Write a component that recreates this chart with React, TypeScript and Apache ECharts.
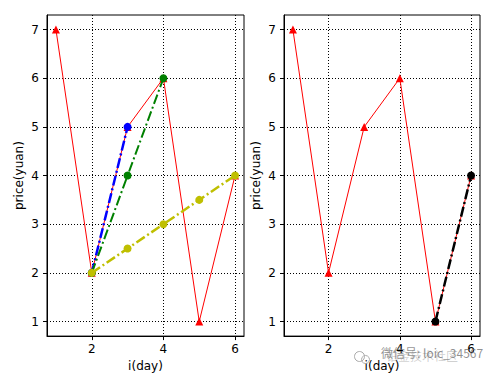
import React, { useEffect, useRef } from "react";
import * as echarts from "echarts";

const days = [1, 2, 3, 4, 5, 6];
const price = [7, 2, 5, 6, 1, 4];
const blueX = [2, 3];
const blueY = [2, 5];
const greenX = [2, 3, 4];
const greenY = [2, 4, 6];
const yellowX = [2, 3, 4, 5, 6];
const yellowY = [2, 2.5, 3, 3.5, 4];
const blackX = [5, 6];
const blackY = [1, 4];
const xTicks = [2, 4, 6];
const yTicks = [1, 2, 3, 4, 5, 6, 7];

const zip = (xs: number[], ys: number[]) => xs.map((x, i) => [x, ys[i]]);

const FONT = "DejaVu Sans";
const DASHDOT = [10, 3, 2, 3];

function xAxisOpt(gridIndex: number) {
  return {
    type: "value",
    gridIndex,
    min: 0.75,
    max: 6.25,
    name: "i(day)",
    nameLocation: "middle",
    nameGap: 23,
    nameTextStyle: { color: "#000", fontSize: 12, fontFamily: FONT },
    axisLine: { show: true, lineStyle: { color: "#000", width: 1 } },
    axisTick: { show: true, inside: false, length: 4, customValues: xTicks, lineStyle: { color: "#000" } },
    axisLabel: { show: true, customValues: xTicks, margin: 7, color: "#000", fontSize: 12, fontFamily: FONT },
    splitLine: { show: true, lineStyle: { color: "#000", width: 1, type: [1, 2] } },
  };
}

function yAxisOpt(gridIndex: number) {
  return {
    type: "value",
    gridIndex,
    min: 0.7,
    max: 7.3,
    name: "price(yuan)",
    nameLocation: "middle",
    nameGap: 22,
    nameRotate: 90,
    nameTextStyle: { color: "#000", fontSize: 12, fontFamily: FONT },
    axisLine: { show: true, lineStyle: { color: "#000", width: 1 } },
    axisTick: { show: true, inside: false, length: 4, customValues: yTicks, lineStyle: { color: "#000" } },
    axisLabel: { show: true, customValues: yTicks, margin: 8, color: "#000", fontSize: 12, fontFamily: FONT },
    splitLine: { show: true, lineStyle: { color: "#000", width: 1, type: [1, 2] } },
  };
}

function redSeries(idx: number) {
  return {
    type: "line",
    xAxisIndex: idx,
    yAxisIndex: idx,
    data: zip(days, price),
    symbol: "triangle",
    symbolSize: 8,
    showSymbol: true,
    itemStyle: { color: "#ff0000" },
    lineStyle: { color: "#ff0000", width: 1 },
    z: 2,
  };
}

function dashSeries(idx: number, xs: number[], ys: number[], color: string, width: number, z: number) {
  return {
    type: "line",
    xAxisIndex: idx,
    yAxisIndex: idx,
    data: zip(xs, ys),
    symbol: "circle",
    symbolSize: 8,
    showSymbol: true,
    itemStyle: { color },
    lineStyle: { color, width, type: DASHDOT },
    z,
  };
}

export default function App() {
  const ref = useRef<HTMLDivElement>(null);
  useEffect(() => {
    if (!ref.current) return;
    const chart = echarts.init(ref.current, undefined, { renderer: "svg" });
    chart.setOption({
      animation: false,
      backgroundColor: "#fff",
      grid: [
        { left: 47, top: 15, width: 197, height: 322, show: true, borderColor: "#000", borderWidth: 1, containLabel: false },
        { left: 284, top: 15, width: 196, height: 322, show: true, borderColor: "#000", borderWidth: 1, containLabel: false },
      ],
      xAxis: [xAxisOpt(0), xAxisOpt(1)],
      yAxis: [yAxisOpt(0), yAxisOpt(1)],
      series: [
        redSeries(0),
        dashSeries(0, blueX, blueY, "#0000ff", 2.5, 3),
        dashSeries(0, greenX, greenY, "#008000", 2, 4),
        dashSeries(0, yellowX, yellowY, "#bfbf00", 2.5, 5),
        redSeries(1),
        dashSeries(1, blackX, blackY, "#000000", 2.5, 3),
      ],
      graphic: [
        { type: "circle", left: 352, top: 349, shape: { r: 5 }, style: { fill: "none", stroke: "#aaa", lineWidth: 1 }, z: 100 },
        { type: "circle", left: 359, top: 353, shape: { r: 4 }, style: { fill: "none", stroke: "#aaa", lineWidth: 1 }, z: 100 },
        { type: "text", left: 386, top: 349, style: { text: "铂金技术社区", fill: "rgba(120,120,120,0.35)", fontSize: 12, fontFamily: "Noto Sans CJK SC" }, z: 100 },
        { type: "text", left: 381, top: 346, style: { text: "微信号: loic_34567", fill: "rgba(110,110,110,0.75)", fontSize: 12, fontFamily: "Noto Sans CJK SC" }, z: 101 },
      ],
    });
    return () => chart.dispose();
  }, []);
  return <div ref={ref} style={{ position: "fixed", left: 0, top: 0, width: 500, height: 377 }} />;
}
